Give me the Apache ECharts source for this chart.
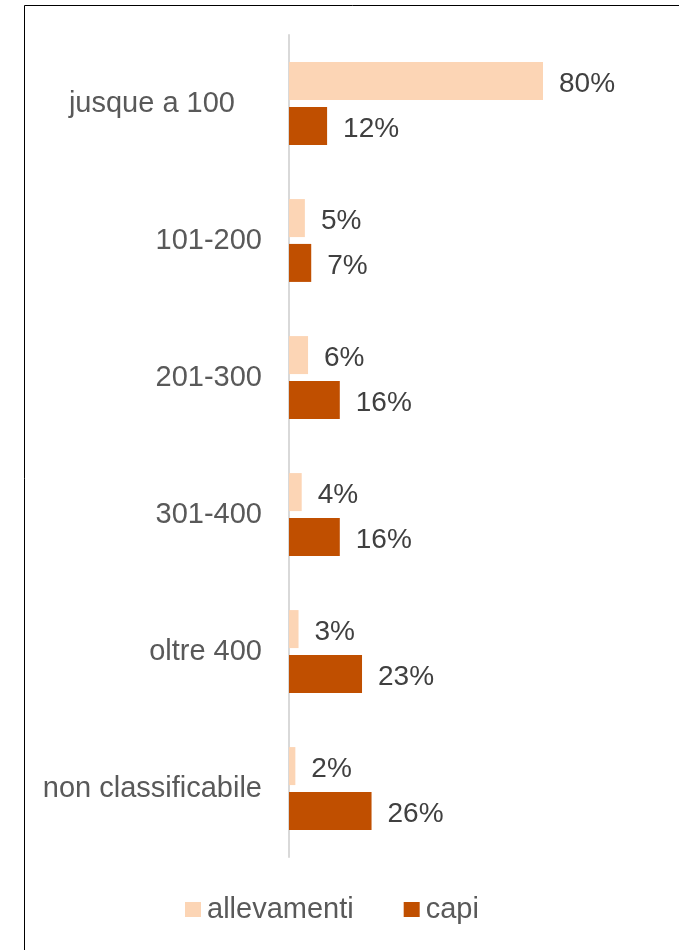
<!DOCTYPE html>
<html>
<head>
<meta charset="utf-8">
<script src="https://cdn.jsdelivr.net/npm/echarts@6/dist/echarts.min.js"></script>
<style>html,body{margin:0;padding:0;background:#fff;}#c{width:679px;height:950px;}</style>
</head>
<body>
<div id="c"></div>
<script>
var categories = ['jusque a 100', '101-200', '201-300', '301-400', 'oltre 400', 'non classificabile'];
var allevamenti = [80, 5, 6, 4, 3, 2];
var capi = [12, 7, 16, 16, 23, 26];
var seriesNames = ['allevamenti', 'capi'];

var chart = echarts.init(document.getElementById('c'), null, {renderer: 'canvas'});
var font = '"Liberation Sans", Arial, sans-serif';
var catData = categories.map(function (c, i) {
  return i === 0 ? {value: c, textStyle: {padding: [8, 27, 0, 0]}} : c;
});
chart.setOption({
  animation: false,
  backgroundColor: '#ffffff',
  graphic: [{
    type: 'rect',
    shape: {x: 24.5, y: 5.5, width: 800, height: 1100},
    style: {fill: 'none', stroke: '#000000', lineWidth: 1},
    silent: true
  }],
  legend: {
    data: seriesNames,
    left: 185,
    top: 895,
    padding: 0,
    itemWidth: 16,
    itemHeight: 15,
    itemGap: 50,
    icon: 'rect',
    textStyle: {fontSize: 29, color: '#595959', fontFamily: font, padding: [0, 0, 0, 1]}
  },
  grid: {left: 289, right: 72.5, top: 35, height: 822, containLabel: false},
  xAxis: {
    type: 'value', min: 0, max: 100,
    show: false
  },
  yAxis: {
    type: 'category',
    data: catData,
    inverse: true,
    axisLine: {show: true, lineStyle: {color: '#d9d9d9', width: 2}},
    axisTick: {show: false},
    axisLabel: {fontSize: 29, color: '#595959', fontFamily: font, margin: 27, padding: [8, 0, 0, 0]}
  },
  series: [
    {
      name: 'allevamenti', type: 'bar', data: allevamenti,
      barWidth: 38, barGap: '18%',
      itemStyle: {color: '#fcd5b5'},
      label: {show: true, position: 'right', distance: 16, offset: [0, 3], formatter: '{c}%', fontSize: 28, color: '#404040', fontFamily: font}
    },
    {
      name: 'capi', type: 'bar', data: capi,
      barWidth: 38, barGap: '18%',
      itemStyle: {color: '#c04f00'},
      label: {show: true, position: 'right', distance: 16, offset: [0, 3], formatter: '{c}%', fontSize: 28, color: '#404040', fontFamily: font}
    }
  ]
});
</script>
</body>
</html>
